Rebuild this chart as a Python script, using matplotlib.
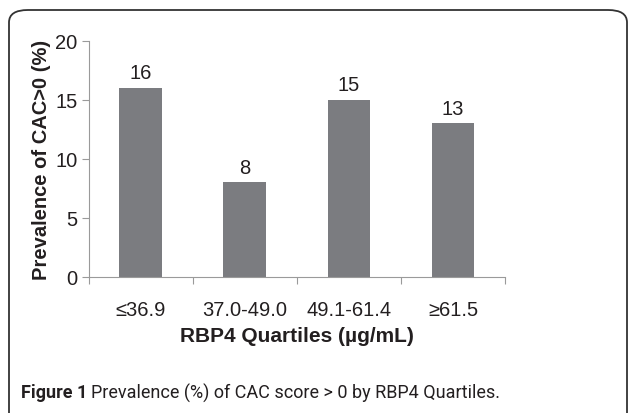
import numpy as np
import matplotlib
matplotlib.use("Agg")
import matplotlib.pyplot as plt
from matplotlib.patches import FancyBboxPatch

plt.rcParams['font.family'] = ['Liberation Sans', 'DejaVu Sans']

# data
quartiles = ["\u226436.9", "37.0-49.0", "49.1-61.4", "\u226561.5"]
prevalence = [16, 8, 15, 13]
yticks = [0, 5, 10, 15, 20]

bar_col = '#7b7c80'
axis_col = '#9a9a9a'
txt_col = '#231f20'

fig = plt.figure(figsize=(6.29, 4.14), dpi=100)
ax = fig.add_axes([88.7/629, 1 - 277.7/414, (505 - 88.7)/629, (277.7 - 41.7)/414])

x = np.arange(len(quartiles))
bars = ax.bar(x, prevalence, width=0.41, color=bar_col, zorder=2)
for b, v in zip(bars, prevalence):
    ax.annotate(str(v), (b.get_x() + b.get_width()/2, v), xytext=(0, 4),
                textcoords='offset points', ha='center', va='bottom',
                fontsize=14.5, color=txt_col)

ax.set_xlim(-0.5, len(quartiles) - 0.5)
ax.set_ylim(0, 20)
ax.set_yticks(yticks)
ax.tick_params(axis='y', length=5, width=0.8, color=axis_col, labelsize=14.5,
               labelcolor=txt_col, pad=3)
# category boundary ticks on x
ax.set_xticks(np.arange(len(quartiles) + 1) - 0.5, minor=False)
ax.set_xticklabels([])
ax.set_xticks(x, minor=True)
ax.set_xticklabels(quartiles, minor=True)
ax.tick_params(axis='x', which='major', length=5, width=0.8, color=axis_col)
ax.tick_params(axis='x', which='minor', length=0, labelsize=14.5,
               labelcolor=txt_col, pad=17)

for s in ['top', 'right']:
    ax.spines[s].set_visible(False)
for s in ['left', 'bottom']:
    ax.spines[s].set_color(axis_col)
    ax.spines[s].set_linewidth(0.8)

ax.set_xlabel("RBP4 Quartiles (\u00b5g/mL)", fontsize=15, fontweight='bold',
              color=txt_col, labelpad=5)
ax.set_ylabel("Prevalence of CAC>0 (%)", fontsize=14.5, fontweight='bold',
              color=txt_col, labelpad=3)

# rounded frame round the figure
frame = FancyBboxPatch((9/629, -0.05), (627 - 9)/629, 1.05 - 11/414,
                       boxstyle="round,pad=0,rounding_size=0.03",
                       transform=fig.transFigure, fill=False,
                       edgecolor='#333333', linewidth=1.3)
fig.patches.append(frame)

# caption
fig.canvas.draw()
r = fig.canvas.get_renderer()
cap_font = ['Roboto', 'Liberation Sans', 'DejaVu Sans']
t1 = fig.text(21/629, 1 - 393/414, "Figure 1", fontsize=13, fontweight='bold',
              color=txt_col, va='center', ha='left', family=cap_font)
bb = t1.get_window_extent(renderer=r)
fig.text(bb.x1/629 + 0.006, 1 - 393/414, "Prevalence (%) of CAC score > 0 by RBP4 Quartiles.",
         fontsize=13, color=txt_col, va='center', ha='left', family=cap_font)

fig.savefig("out.png", dpi=100)
